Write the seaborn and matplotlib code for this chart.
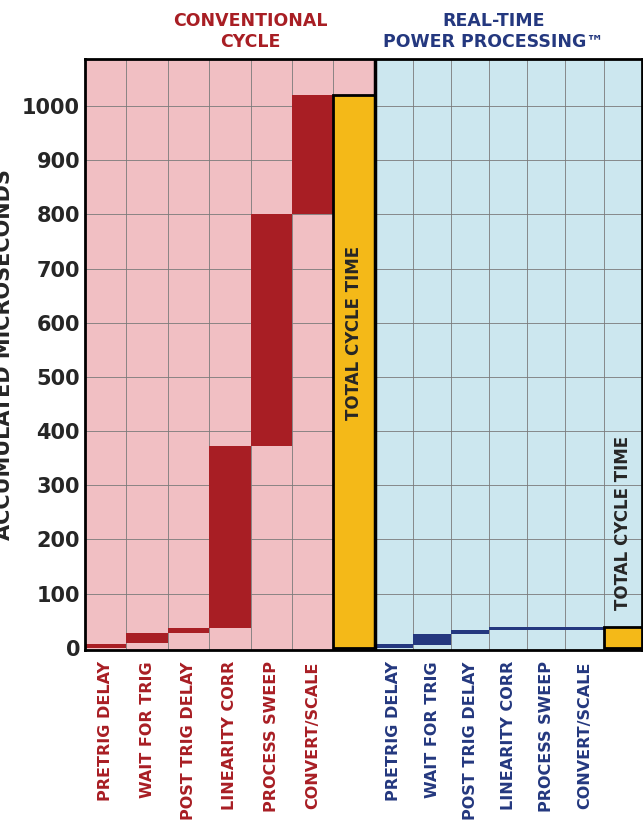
import numpy as np
import matplotlib.pyplot as plt
import seaborn as sns

steps = ["PRETRIG DELAY", "WAIT FOR TRIG", "POST TRIG DELAY", "LINEARITY CORR",
         "PROCESS SWEEP", "CONVERT/SCALE"]
conv_lo = [0, 8, 28, 36, 372, 800]
conv_hi = [6, 27, 36, 372, 800, 1020]
conv_total = 1020
rt_lo = [0, 5, 25, 32, 33, 33]
rt_hi = [6, 25, 32, 38, 38, 38]
rt_total = 38

sns.set_style("white")
plt.rcParams['font.family'] = ['DejaVu Sans']
fig = plt.figure(figsize=(6.43, 8.36), dpi=100)
ax = fig.add_axes([0.132, 0.222, 0.866, 0.708])

red = "#a81e24"
blue = "#24387f"
gold = "#f4b918"
w2 = 0.92  # right-panel column width
left_x = np.arange(7, dtype=float)
right_x = 6.5 + w2 / 2 + w2 * np.arange(7)
x_end = 6.5 + 7 * w2

ax.axvspan(-0.5, 6.5, color="#f1bfc3", zorder=0)
ax.axvspan(6.5, x_end, color="#cce7ef", zorder=0)
edges = list(np.arange(0.5, 6.5, 1)) + list(6.5 + w2 * np.arange(1, 7))
for x in edges:
    ax.axvline(x, color="#7a7a7a", lw=0.6, zorder=1)
for y in range(100, 1100, 100):
    ax.axhline(y, color="#7a7a7a", lw=0.6, zorder=1)

ax.bar(left_x[:6], np.array(conv_hi) - np.array(conv_lo), bottom=conv_lo, width=1,
       color=red, edgecolor="none", zorder=2)
ax.bar(left_x[6], conv_total, width=1, color=gold, edgecolor="black", lw=2, zorder=3)
ax.bar(right_x[:6], np.array(rt_hi) - np.array(rt_lo), bottom=rt_lo, width=w2,
       color=blue, edgecolor="none", zorder=2)
ax.bar(right_x[6], rt_total, width=w2, color=gold, edgecolor="black", lw=2, zorder=3)
ax.text(left_x[6], 420, "TOTAL CYCLE TIME", rotation=90, ha="center", va="bottom",
        fontsize=12, fontweight="bold", zorder=4)
ax.text(right_x[6], 70, "TOTAL CYCLE TIME", rotation=90, ha="center", va="bottom",
        fontsize=12, fontweight="bold", zorder=4)
ax.axvline(6.5, color="black", lw=2.5, zorder=4)

ax.set_xlim(-0.5, x_end)
ax.set_ylim(-5, 1088)
ax.set_yticks(range(0, 1100, 100))
ax.tick_params(axis="y", labelsize=15, length=0)
for t in ax.get_yticklabels():
    t.set_fontweight("bold")
ax.set_xticks([])
for s in ax.spines.values():
    s.set_linewidth(2)
    s.set_color("black")
ax.set_ylabel("ACCUMULATED MICROSECONDS", fontsize=15, fontweight="bold", labelpad=6)

for i, s in enumerate(steps):
    ax.text(left_x[i], -25, s, rotation=90, ha="center", va="top", color=red, fontsize=11.5,
            fontweight="bold")
    ax.text(right_x[i], -25, s, rotation=90, ha="center", va="top", color=blue, fontsize=11.5,
            fontweight="bold")

fig.text(0.39, 0.962, "CONVENTIONAL\nCYCLE", ha="center", va="center", color=red,
         fontsize=12.5, fontweight="bold", linespacing=1.2)
fig.text(0.768, 0.962, "REAL-TIME\nPOWER PROCESSING™", ha="center", va="center", color=blue,
         fontsize=12.5, fontweight="bold", linespacing=1.2)

plt.savefig("out.png", dpi=100)
